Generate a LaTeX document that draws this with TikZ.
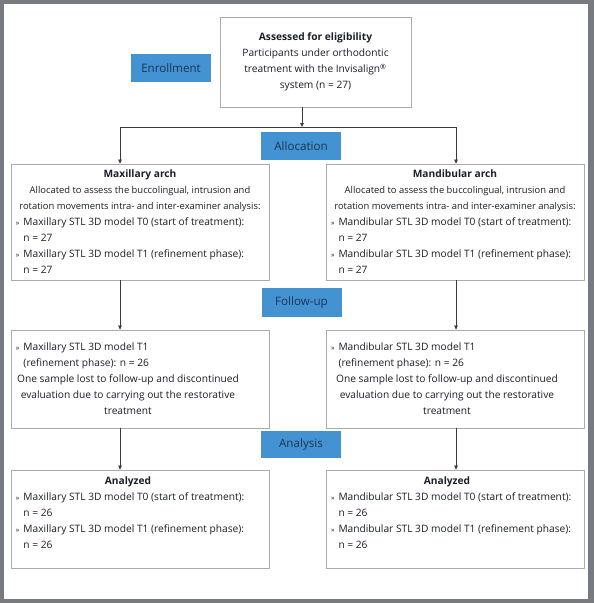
\documentclass[tikz,border=0pt]{standalone}
\usepackage{fontspec}
\setmainfont{Open Sans}
\usetikzlibrary{arrows.meta}
\definecolor{frame}{HTML}{777A7E}
\definecolor{lblue}{HTML}{4392D2}
\definecolor{ltext}{HTML}{1E3552}
\definecolor{btext}{HTML}{1A1F29}
\definecolor{bline}{HTML}{ABABAB}
\definecolor{aline}{HTML}{3A3A3A}
\newcommand\bl{\makebox[7.5pt][l]{\fontsize{7}{7}\selectfont »}}
\newcommand\ind{\hspace*{7.5pt}}
\newcommand\txt{\fontsize{10.2}{16}\selectfont}
\newcommand\sml{\fontsize{9.4}{16}\selectfont}
\begin{document}
\begin{tikzpicture}[x=1pt,y=-1pt,
  box/.style={draw=bline,line width=0.8pt,fill=white,inner xsep=5pt,inner ysep=0pt,text=btext,font=\txt},
  label/.style={fill=lblue,inner sep=0pt,text=ltext,font=\fontsize{11.6}{14}\selectfont,minimum width=80pt,minimum height=28pt},
  arr/.style={draw=aline,line width=0.7pt,-{Triangle[length=4pt,width=3.6pt]}},
  ln/.style={draw=aline,line width=0.7pt}]
\useasboundingbox (0,0) rectangle (594,603);
\fill[frame] (0,0) rectangle (594,603);
\fill[white] (4,4) rectangle (588,599);

% top box
\node[box] (top) at (315.5,62) {\parbox[c][90pt][c]{181pt}{\centering\textbf{Assessed for eligibility}\\Participants under orthodontic\\treatment with the Invisalign\textsuperscript{®}\\system (n = 27)}};
\node[label] (enr) at (171,68) {Enrollment};

% allocation
\coordinate (jt) at (302,127);
\coordinate (jl) at (120,127);
\coordinate (jr) at (456,127);

\node[box] (maxa) at (140,222) {\parbox[c][116pt][c]{248pt}{\centering\textbf{Maxillary arch}\\{\sml Allocated to assess the buccolingual, intrusion and}\\{\sml rotation movements intra- and inter-examiner analysis:}\par\raggedright
\bl Maxillary STL 3D model T0 (start of treatment):\\\ind n = 27\\\bl Maxillary STL 3D model T1 (refinement phase):\\\ind n = 27}};
\node[box] (mana) at (455,222) {\parbox[c][116pt][c]{248pt}{\centering\textbf{Mandibular arch}\\{\sml Allocated to assess the buccolingual, intrusion and}\\{\sml rotation movements intra- and inter-examiner analysis:}\par\raggedright
\bl Mandibular STL 3D model T0 (start of treatment):\\\ind n = 27\\\bl Mandibular STL 3D model T1 (refinement phase):\\\ind n = 27}};
\node[label] (alloc) at (301,146) {Allocation};

% follow-up
\node[box] (maxf) at (140,379) {\parbox[c][98pt][c]{248pt}{\raggedright
\bl Maxillary STL 3D model T1\\\ind (refinement phase): n = 26\\
\makebox[224pt][c]{One sample lost to follow-up and discontinued}\\
\makebox[224pt][c]{evaluation due to carrying out the restorative}\\
\makebox[224pt][c]{treatment}}};
\node[box] (manf) at (455,379) {\parbox[c][98pt][c]{248pt}{\raggedright
\bl Mandibular STL 3D model T1\\\ind (refinement phase): n = 26\\
\makebox[232pt][c]{One sample lost to follow-up and discontinued}\\
\makebox[232pt][c]{evaluation due to carrying out the restorative}\\
\makebox[232pt][c]{treatment}}};
\node[label,minimum height=29pt] (fup) at (301.5,302.5) {Follow-up};

% analysis
\node[box] (maxz) at (140,519) {\parbox[c][98pt][c]{248pt}{\raggedright
\makebox[224pt][c]{\textbf{Analyzed}}\\
\bl Maxillary STL 3D model T0 (start of treatment):\\\ind n = 26\\\bl Maxillary STL 3D model T1 (refinement phase):\\\ind n = 26\par\vspace{12pt}}};
\node[box] (manz) at (455,519) {\parbox[c][98pt][c]{248pt}{\raggedright
\makebox[232pt][c]{\textbf{Analyzed}}\\
\bl Mandibular STL 3D model T0 (start of treatment):\\\ind n = 26\\\bl Mandibular STL 3D model T1 (refinement phase):\\\ind n = 26\par\vspace{12pt}}};
\node[label,minimum height=27pt] (ana) at (301,444.5) {Analysis};

% connectors
\draw[arr] (top.south -| jt) -- (jt);
\draw[ln] (jl) -- (jr);
\draw[arr] (jl) -- (jl |- maxa.north);
\draw[arr] (jr) -- (jr |- mana.north);
\draw[arr] (maxa.south -| jl) -- (jl |- maxf.north);
\draw[arr] (mana.south -| jr) -- (jr |- manf.north);
\draw[arr] (maxf.south -| jl) -- (jl |- maxz.north);
\draw[arr] (manf.south -| jr) -- (jr |- manz.north);
\end{tikzpicture}
\end{document}
